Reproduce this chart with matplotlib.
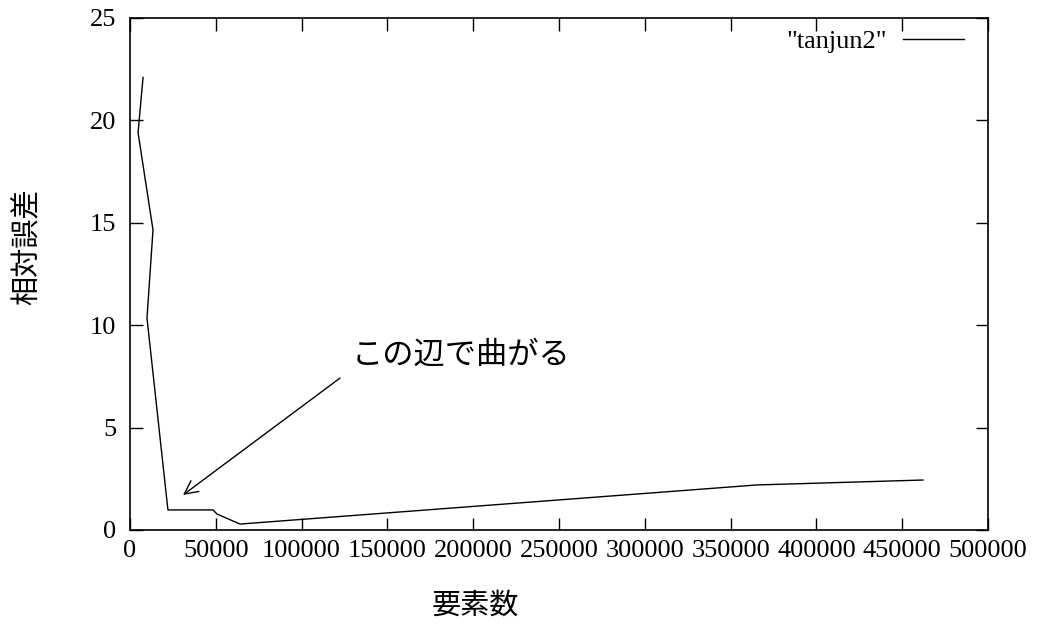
import matplotlib
matplotlib.use('Agg')
import matplotlib.pyplot as plt

# data
elements = [7600, 4700, 13400, 9900, 22100, 48400, 50700, 64100, 365400, 462100]
rel_error = [22.1, 19.4, 14.65, 10.35, 0.98, 0.98, 0.78, 0.29, 2.2, 2.44]
x_ticks = [0, 50000, 100000, 150000, 200000, 250000, 300000, 350000, 400000, 450000, 500000]
y_ticks = [0, 5, 10, 15, 20, 25]

jp = ['Noto Sans CJK JP', 'DejaVu Sans']
serif = 'Liberation Serif'

fig = plt.figure(figsize=(10.44, 6.27), dpi=100)
ax = fig.add_axes([130 / 1044, 1 - 530 / 627, 858 / 1044, 512 / 627])

ax.plot(elements, rel_error, color='black', linewidth=1.0, label='"tanjun2"')

ax.set_xlim(0, 500000)
ax.set_ylim(0, 25)
ax.set_xticks(x_ticks)
ax.set_yticks(y_ticks)
ax.set_xticklabels([str(v) for v in x_ticks], fontfamily=serif, fontsize=19)
ax.set_yticklabels([str(v) for v in y_ticks], fontfamily=serif, fontsize=19)
ax.tick_params(direction='in', top=True, right=True, length=9, width=1)
ax.tick_params(axis='y', pad=10)
ax.tick_params(axis='x', pad=7)
for sp in ax.spines.values():
    sp.set_linewidth(1.2)

ax.set_xlabel('要素数', fontfamily=jp, fontsize=21, va='center')
ax.set_ylabel('相対誤差', fontfamily=jp, fontsize=21, va='center')
ax.xaxis.set_label_coords(0.403, -0.147)
ax.yaxis.set_label_coords(-0.12, 0.553)

leg = ax.legend(loc='upper right', frameon=False, markerfirst=False,
                prop={'family': serif, 'size': 19}, handlelength=2.3,
                borderaxespad=0.3, handletextpad=0.6,
                bbox_to_anchor=(0.993, 1.013))

ax.annotate('', xy=(30900, 1.71), xytext=(122400, 7.42),
            arrowprops=dict(arrowstyle='->', color='black', lw=1.0,
                            mutation_scale=24, shrinkA=0, shrinkB=0))
ax.text(129000, 8.55, 'この辺で曲がる', fontfamily=jp, fontsize=22.5,
        ha='left', va='center')

fig.savefig('out.png', dpi=100)
